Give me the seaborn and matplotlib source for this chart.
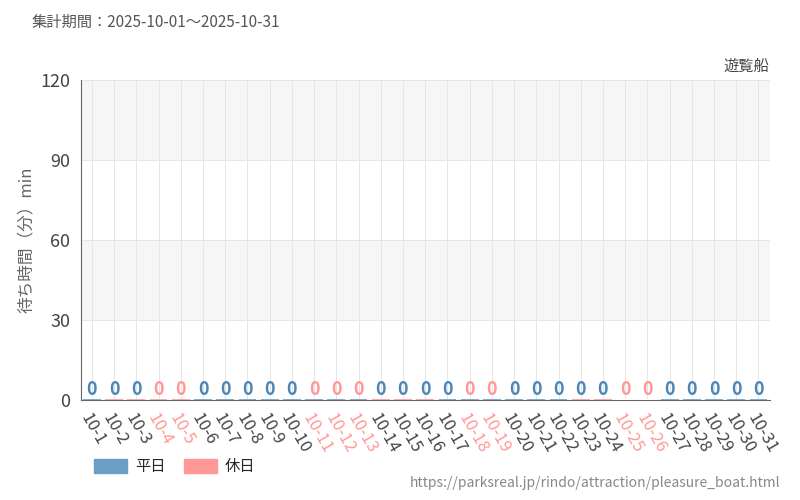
import matplotlib
matplotlib.use("Agg")
import matplotlib.pyplot as plt
import seaborn as sns
import pandas as pd
from matplotlib.patches import Patch

sns.set_theme(style="white")
plt.rcParams['font.family'] = ['Noto Sans CJK JP', 'DejaVu Sans']

# データ
days = [f"10-{d}" for d in range(1, 32)]
wait_min = [0] * 31
holidays = ["10-4", "10-5", "10-11", "10-12", "10-13", "10-18", "10-19", "10-25", "10-26"]

BLUE = "#6a9ec5"
PINK = "#ff9896"

df = pd.DataFrame({"day": days, "wait": wait_min})
df["kind"] = ["休日" if d in holidays else "平日" for d in days]

fig = plt.figure(figsize=(8, 5), dpi=100)
ax = fig.add_axes([0.101, 0.2, 0.861, 0.64])

# 背景の帯
ax.axhspan(30, 60, color="#f6f6f6", zorder=0, linewidth=0)
ax.axhspan(90, 120, color="#f6f6f6", zorder=0, linewidth=0)

sns.barplot(data=df, x="day", y="wait", hue="kind", palette={"平日": BLUE, "休日": PINK},
            dodge=False, legend=False, ax=ax, width=0.8, linewidth=1.2, zorder=3)
for p, k in zip(ax.patches, df["kind"]):
    p.set_edgecolor(PINK if k == "休日" else BLUE)

for i, (v, k) in enumerate(zip(df["wait"], df["kind"])):
    ax.text(i, v + 0.5, str(v), ha="center", va="bottom", fontsize=13, fontweight="bold",
            color=PINK if k == "休日" else "#4a86b8")

ax.set_ylim(0, 120)
ax.set_xlim(-0.5, 30.5)
ax.set_yticks([0, 30, 60, 90, 120])
ax.tick_params(axis="y", labelsize=13, labelcolor="#444444", length=4, color="#666666")
ax.tick_params(axis="x", labelsize=12, length=4, color="#666666")
ax.set_xticks(range(31))
ax.set_xticklabels(days, rotation=-60, ha="left", rotation_mode="anchor")
for lbl, k in zip(ax.get_xticklabels(), df["kind"]):
    lbl.set_color(PINK if k == "休日" else "#444444")
ax.grid(True, axis="both", color="#e6e6e6", linewidth=0.7)
ax.set_axisbelow(True)
for s in ["top", "right"]:
    ax.spines[s].set_visible(False)
ax.spines["left"].set_color("#666666")
ax.spines["left"].set_linewidth(0.8)
ax.spines["bottom"].set_color("#666666")
ax.spines["bottom"].set_linewidth(0.8)
ax.set_xlabel("")
ax.set_ylabel("待ち時間（分）min", fontsize=12, color="#666666")

ax.text(1.0, 1.015, "遊覧船", transform=ax.transAxes, ha="right", va="bottom",
        fontsize=11, color="#444444")
fig.text(0.04, 0.955, "集計期間：2025-10-01～2025-10-31", fontsize=11, color="#555555", va="center")
fig.legend(handles=[Patch(color=BLUE, label="平日"), Patch(color=PINK, label="休日")],
           loc="center left", bbox_to_anchor=(0.1, 0.066), ncol=2, frameon=False,
           fontsize=11, handlelength=2.2, handleheight=1.0, handletextpad=0.5, columnspacing=1.2)
fig.text(0.975, 0.035, "https://parksreal.jp/rindo/attraction/pleasure_boat.html",
         ha="right", va="center", fontsize=10, color="#888888")

fig.savefig("out.png", dpi=100)
